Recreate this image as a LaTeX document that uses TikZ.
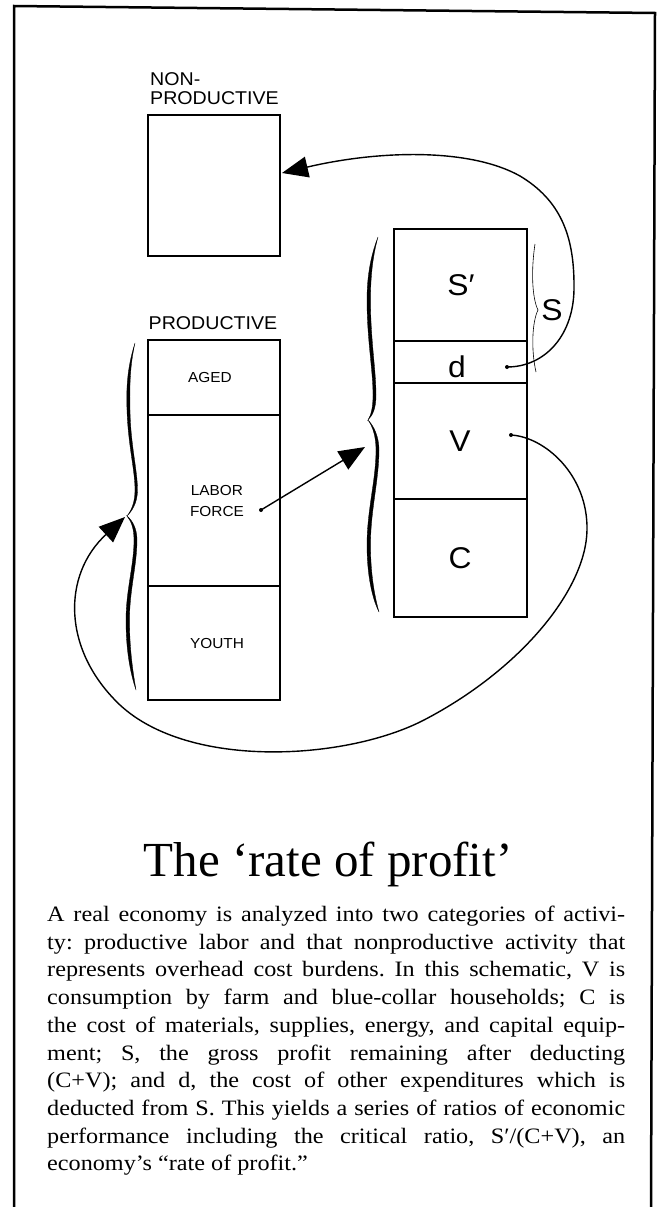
\documentclass[tikz,border=0pt]{standalone}
\usepackage{fontspec}
\setmainfont{Liberation Serif}
\newfontfamily\capfont{Liberation Serif}[FakeStretch=1.1]
\newfontfamily\lblfont{Liberation Sans}[FakeStretch=1.06]
\usetikzlibrary{arrows.meta}
\frenchspacing
\begin{document}
\begin{tikzpicture}[x=1pt,y=-1pt,
  cell/.style={draw, line width=1.3pt, minimum width=132pt, inner sep=0pt, outer sep=0pt},
  frameline/.style={line width=2.5pt},
  flow/.style={line width=1.4pt, -{Triangle[length=26pt,width=21pt]}},
  tag/.style={font=\lblfont\fontsize{14.5}{17}\selectfont, anchor=base, inner sep=0pt},
  big/.style={font=\lblfont\fontsize{30}{34}\selectfont, anchor=base, inner sep=0pt},
  head/.style={font=\lblfont\fontsize{18.5}{21}\selectfont, inner sep=0pt},
  bodyline/.style={font=\capfont\fontsize{22}{27.7}\selectfont, anchor=base west, inner sep=0pt},
  brace/.style={fill=black, draw=black, line width=0.3pt},
]
\useasboundingbox (0,0) rectangle (661,1207);

% page frame, open at the bottom
\draw[frameline] (14,1207) -- (14,6) -- (655,13) -- (651,1207);

% non-productive sector
\node[head, anchor=base west] (nplab1) at (150,85) {NON-};
\node[head, anchor=base west] (nplab2) at (150,104) {PRODUCTIVE};
\node[cell, line width=2.5pt, minimum height=141pt] (np) at (214,185.5) {};

% productive population
\node[head, anchor=base] (plab) at (213,329) {PRODUCTIVE};
\node[cell, minimum height=75pt]  (aged)  at (214,377.5) {};
\node[cell, minimum height=171pt] (labor) at (214,500.5) {};
\node[cell, minimum height=114pt] (youth) at (214,643) {};
\draw[frameline] (aged.north west) rectangle (youth.south east);
\node[tag] (agedlab)  at (210,382) {AGED};
\node[tag] (lablab)   at (217,495) {LABOR};
\node[tag] (forcelab) at (217,516) {FORCE};
\node[tag] (youthlab) at (217,648) {YOUTH};

% output stack
\node[cell, minimum width=133pt, minimum height=112pt] (sp) at (460.5,285) {};
\node[cell, minimum width=133pt, minimum height=42pt]  (dd) at (460.5,362) {};
\node[cell, minimum width=133pt, minimum height=116pt] (vv) at (460.5,441) {};
\node[cell, minimum width=133pt, minimum height=118pt] (cc) at (460.5,558) {};
\draw[frameline] (sp.north west) rectangle (cc.south east);
\node[big] (splab) at (461,295) {S′};
\node[big] (dlab)  at (457,377) {d};
\node[big] (vlab)  at (460,451) {V};
\node[big] (clab)  at (460,568) {C};
\node[big] (slab)  at (552,320) {S};

% braces
\fill[brace] (135,343) .. controls (128,365) and (126,385) .. (127,410)
  .. controls (128,445) and (135,470) .. (135,490)
  .. controls (135,503) and (131,511) .. (127,516)
  .. controls (132,511) and (137.5,503) .. (137.5,490)
  .. controls (137.5,470) and (130.5,445) .. (130,410)
  .. controls (129.5,385) and (130,365) .. (135,343) -- cycle;
\fill[brace] (127,516) .. controls (131,521) and (134,528) .. (134,540)
  .. controls (134,565) and (126,590) .. (126,620)
  .. controls (126,650) and (130,672) .. (136,690)
  .. controls (133,672) and (129.5,650) .. (129.5,620)
  .. controls (129.5,590) and (137,565) .. (137,540)
  .. controls (137,528) and (132,520) .. (127,516) -- cycle;
\fill[brace] (378,237) .. controls (371,255) and (367,275) .. (367,300)
  .. controls (367,340) and (373,370) .. (373,395)
  .. controls (373,408) and (371,415) .. (368,420)
  .. controls (373,415) and (376,408) .. (376,395)
  .. controls (376,370) and (370.5,340) .. (370.5,300)
  .. controls (370.5,275) and (373,255) .. (378,237) -- cycle;
\fill[brace] (368,420) .. controls (373,427) and (376,437) .. (376,450)
  .. controls (376,480) and (367,510) .. (367,545)
  .. controls (367,575) and (372,598) .. (379,612)
  .. controls (375,598) and (370.5,575) .. (370.5,545)
  .. controls (370.5,510) and (379,480) .. (379,450)
  .. controls (379,437) and (374,426) .. (368,420) -- cycle;
\draw[line width=0.6pt] (535,244) .. controls (531,270) and (532,298) .. (538,310)
  .. controls (532,322) and (531,350) .. (536,372);

% flow connectors
\coordinate (lfdot) at (261,510);
\coordinate (ddot) at (507,367);
\coordinate (vdot) at (511,435);
\path (np.east) ++(2,-12.5) coordinate (npin);
\coordinate (pbr) at (125,517);
\coordinate (sbr) at (365,447);
\fill (lfdot) circle (2);
\fill (ddot) circle (2);
\fill (vdot) circle (2);
\draw[flow] (lfdot) -- (sbr);
\draw[flow] (ddot) .. controls (545,367) and (575,335) .. (574,285)
  .. controls (574,235) and (560,200) .. (520,176)
  .. controls (470,148) and (380,150) .. (npin);
\draw[flow] (vdot) .. controls (545,437) and (588,475) .. (587,530)
  .. controls (586,590) and (520,670) .. (424,720)
  .. controls (347,760) and (190,770) .. (120,705)
  .. controls (62,650) and (62,575) .. (pbr);

% caption
\node[font=\fontsize{49}{55}\selectfont, anchor=base, inner sep=0pt] (title) at (328,876) {The ‘rate of profit’};
\node[bodyline] (c1)  at (47,921.5)  {\makebox[578pt][s]{A real economy is analyzed into two categories of activi-}};
\node[bodyline] (c2)  at (47,949.2)  {\makebox[578pt][s]{ty: productive labor and that nonproductive activity that}};
\node[bodyline] (c3)  at (47,976.9)  {\makebox[578pt][s]{represents overhead cost burdens. In this schematic, V is}};
\node[bodyline] (c4)  at (47,1004.6) {\makebox[578pt][s]{consumption by farm and blue-collar households; C is}};
\node[bodyline] (c5)  at (47,1032.3) {\makebox[578pt][s]{the cost of materials, supplies, energy, and capital equip-}};
\node[bodyline] (c6)  at (47,1060.0) {\makebox[578pt][s]{ment; S, the gross profit remaining after deducting}};
\node[bodyline] (c7)  at (47,1087.7) {\makebox[578pt][s]{(C+V); and d, the cost of other expenditures which is}};
\node[bodyline] (c8)  at (47,1115.4) {\makebox[578pt][s]{deducted from S. This yields a series of ratios of economic}};
\node[bodyline] (c9)  at (47,1143.1) {\makebox[578pt][s]{performance including the critical ratio, S′/(C+V), an}};
\node[bodyline] (c10) at (47,1170.8) {economy’s “rate of profit.”};
\end{tikzpicture}
\end{document}
